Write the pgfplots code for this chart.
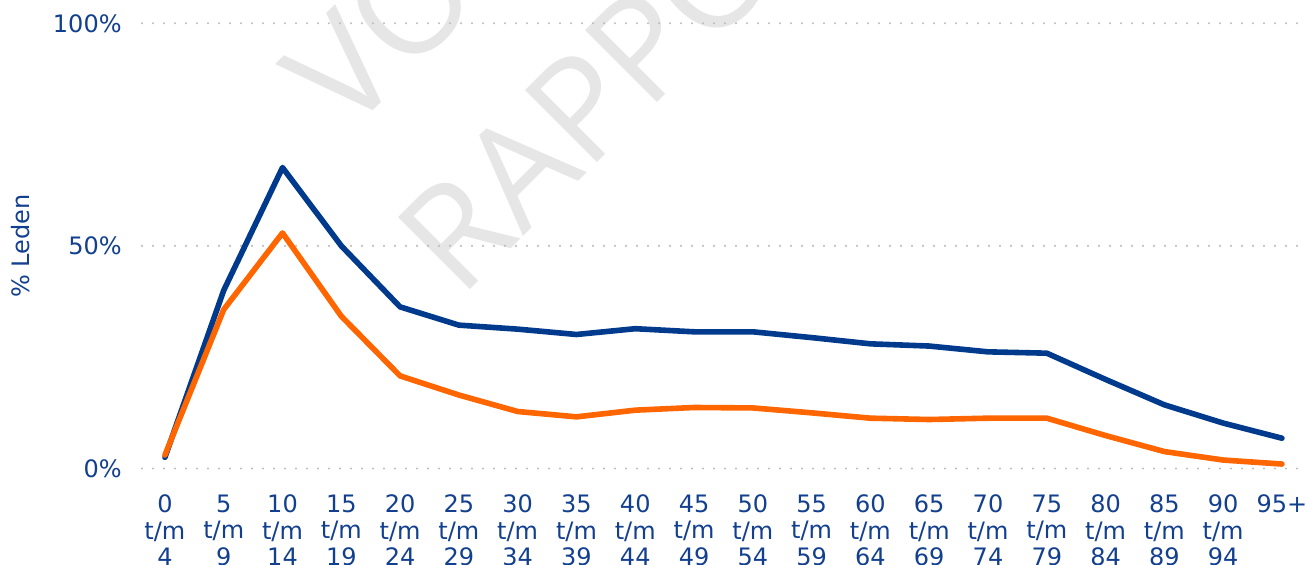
\documentclass[border=0pt]{standalone}
\usepackage{fontspec}
\setmainfont{DejaVu Sans}
\newfontfamily\wmfont{Open Sans}
\usepackage{pgfplots}
\pgfplotsset{compat=1.18}
\definecolor{navy}{HTML}{003A8C}
\definecolor{orng}{HTML}{FF6600}
\definecolor{txt}{HTML}{123F8E}
\definecolor{wm}{HTML}{E6E6E6}
\definecolor{gridc}{HTML}{BDBDBD}
\begin{document}
\begin{tikzpicture}
\useasboundingbox (-71pt,-48.25pt) rectangle (582pt,234.25pt);
\begin{scope}
\clip (-71pt,-48.25pt) rectangle (582pt,234.25pt);
\node[rotate=45, anchor=base west, inner sep=0pt, text=wm, font=\wmfont\fontsize{71.3}{80}\selectfont] at (102.65pt,165.95pt) {VOORLOPIG};
\node[rotate=45, anchor=base west, inner sep=0pt, text=wm, font=\wmfont\fontsize{71.3}{80}\selectfont] at (159.3pt,84.55pt) {RAPPORT};
\end{scope}
\begin{axis}[
  at={(0,0)}, anchor=south west,
  scale only axis, width=578.5pt, height=222.6pt,
  xmin=-0.39, xmax=19.29, ymin=0, ymax=100,
  axis line style={draw=none},
  tick style={draw=none},
  major tick length=0pt,
  ytick={0,50,100},
  yticklabels={0\%,50\%,100\%},
  ymajorgrids,
  grid style={gridc, line width=1.2pt, line cap=round, dash pattern=on 0pt off 5.5pt},
  xtick={0,...,19},
  xticklabels={0\\t/m\\4,5\\t/m\\9,10\\t/m\\14,15\\t/m\\19,20\\t/m\\24,25\\t/m\\29,30\\t/m\\34,35\\t/m\\39,40\\t/m\\44,45\\t/m\\49,50\\t/m\\54,55\\t/m\\59,60\\t/m\\64,65\\t/m\\69,70\\t/m\\74,75\\t/m\\79,80\\t/m\\84,85\\t/m\\89,90\\t/m\\94,95+},
  xticklabel style={align=center, inner sep=0pt, anchor=north, yshift=-13pt, font=\fontsize{12}{13.3}\selectfont, text=txt},
  yticklabel style={inner sep=0pt, anchor=east, xshift=-10pt, font=\fontsize{12}{13.3}\selectfont, text=txt},
  ylabel={\% Leden},
  ylabel style={at={(axis description cs:0,0.5)}, anchor=center, yshift=60.5pt, font=\fontsize{12}{13.3}\selectfont, text=txt, inner sep=0pt},
  clip=false,
]
\addplot[navy, line width=2.8pt, line join=round, line cap=round] coordinates {
(0,2.5) (1,40.0) (2,67.6) (3,50.0) (4,36.3) (5,32.2) (6,31.3) (7,30.1) (8,31.4) (9,30.7)
(10,30.7) (11,29.4) (12,28.0) (13,27.5) (14,26.2) (15,25.9) (16,20.0) (17,14.3) (18,10.2) (19,6.8)};
\addplot[orng, line width=2.8pt, line join=round, line cap=round] coordinates {
(0,3.0) (1,35.7) (2,52.9) (3,34.2) (4,20.8) (5,16.5) (6,12.8) (7,11.6) (8,13.1) (9,13.7)
(10,13.6) (11,12.5) (12,11.3) (13,11.0) (14,11.3) (15,11.3) (16,7.4) (17,3.8) (18,1.9) (19,1.0)};
\end{axis}
\end{tikzpicture}
\end{document}
